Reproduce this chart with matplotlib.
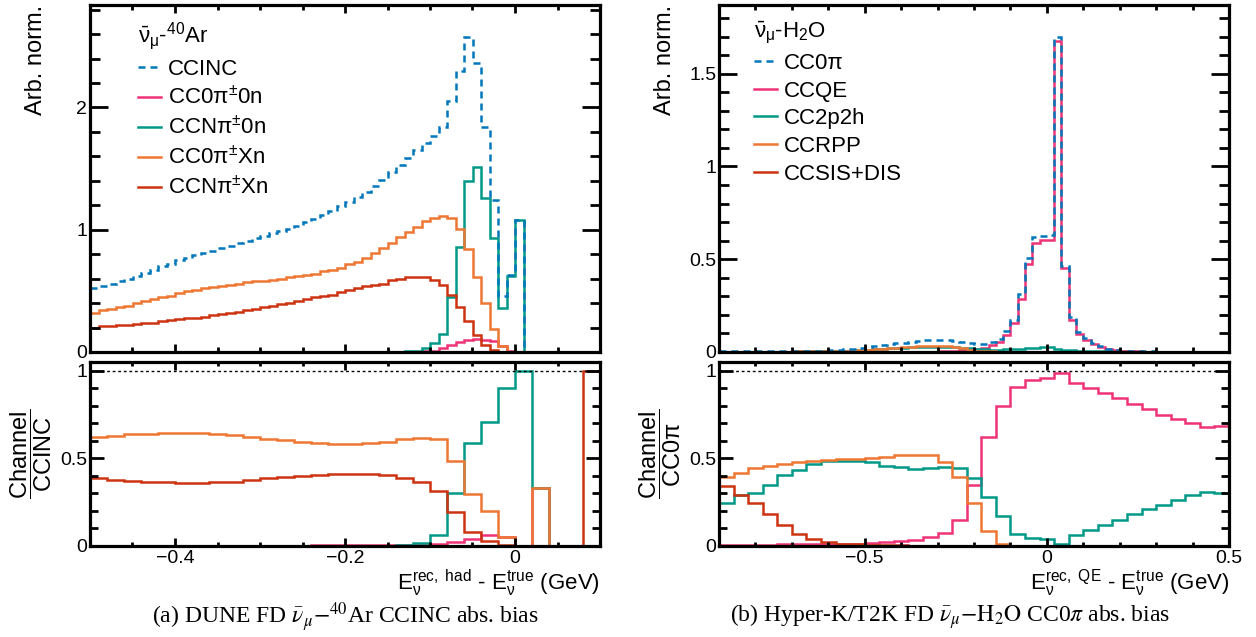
import numpy as np
import matplotlib
matplotlib.use("Agg")
from matplotlib import pyplot as plt
from matplotlib.lines import Line2D
import matplotlib.ticker as mtick

plt.rcParams['font.family'] = ['Liberation Sans', 'DejaVu Sans']
plt.rcParams['mathtext.fontset'] = 'custom'
plt.rcParams['mathtext.rm'] = 'Liberation Sans'
plt.rcParams['mathtext.it'] = 'Liberation Sans:italic'
plt.rcParams['mathtext.bf'] = 'Liberation Sans:bold'
plt.rcParams['mathtext.sf'] = 'Liberation Sans'

# ---- DUNE FD, anti-numu on Ar40: spectrum in 0.01 GeV bins, ratio in 0.02 GeV bins
dune_range = (-0.5, 0.1)
dune_ccinc = [0.52, 0.54, 0.56, 0.58, 0.60, 0.62, 0.65, 0.67, 0.70, 0.72,
              0.75, 0.77, 0.79, 0.81, 0.83, 0.85, 0.87, 0.89, 0.91, 0.93,
              0.95, 0.97, 0.99, 1.01, 1.03, 1.06, 1.09, 1.12, 1.15, 1.19,
              1.23, 1.27, 1.31, 1.36, 1.41, 1.47, 1.53, 1.59, 1.65, 1.71,
              1.77, 1.84, 2.05, 2.30, 2.58, 2.36, 1.84, 1.24, 0.46, 0.63,
              1.08, 0.0, 0.0, 0.0, 0.0, 0.0, 0.0, 0.0, 0.0, 0.0]
dune_cc0pi0n = [0.0, 0.0, 0.0, 0.0, 0.0, 0.0, 0.0, 0.0, 0.0, 0.0,
                0.0, 0.0, 0.001, 0.002, 0.002, 0.002, 0.001, 0.0, 0.0, 0.0,
                0.0, 0.0, 0.0, 0.0, 0.001, 0.002, 0.002, 0.002, 0.002, 0.002,
                0.002, 0.002, 0.003, 0.003, 0.003, 0.003, 0.003, 0.004, 0.004, 0.005,
                0.01, 0.03, 0.06, 0.08, 0.10, 0.11, 0.10, 0.09, 0.05, 0.01,
                0.0, 0.0, 0.0, 0.0, 0.0, 0.0, 0.0, 0.0, 0.0, 0.0]
dune_ccnpi0n = [0.0, 0.0, 0.0, 0.0, 0.0, 0.0, 0.0, 0.0, 0.0, 0.0,
                0.0, 0.0, 0.0, 0.0, 0.0, 0.0, 0.0, 0.0, 0.0, 0.0,
                0.0, 0.0, 0.0, 0.0, 0.0, 0.0, 0.0, 0.0, 0.0, 0.0,
                0.0, 0.0, 0.0, 0.001, 0.001, 0.002, 0.004, 0.006, 0.01, 0.03,
                0.07, 0.15, 0.45, 0.86, 1.40, 1.51, 1.26, 0.93, 0.36, 0.62,
                1.08, 0.0, 0.0, 0.0, 0.0, 0.0, 0.0, 0.0, 0.0, 0.0]
dune_cc0pixn = [0.32, 0.34, 0.35, 0.37, 0.38, 0.40, 0.42, 0.43, 0.45, 0.46,
                0.48, 0.50, 0.51, 0.52, 0.53, 0.54, 0.55, 0.56, 0.57, 0.58,
                0.58, 0.59, 0.60, 0.61, 0.62, 0.63, 0.64, 0.66, 0.67, 0.69,
                0.72, 0.74, 0.77, 0.81, 0.85, 0.89, 0.94, 0.98, 1.02, 1.07,
                1.10, 1.11, 1.10, 1.01, 0.84, 0.61, 0.40, 0.19, 0.05, 0.0,
                0.0, 0.0, 0.0, 0.0, 0.0, 0.0, 0.0, 0.0, 0.0, 0.0]
dune_ccnpixn = [0.20, 0.21, 0.21, 0.22, 0.22, 0.23, 0.24, 0.24, 0.25, 0.26,
                0.27, 0.28, 0.28, 0.29, 0.30, 0.31, 0.32, 0.33, 0.34, 0.35,
                0.37, 0.38, 0.39, 0.40, 0.42, 0.43, 0.45, 0.46, 0.47, 0.49,
                0.51, 0.52, 0.54, 0.55, 0.56, 0.59, 0.60, 0.61, 0.61, 0.61,
                0.59, 0.55, 0.47, 0.37, 0.25, 0.14, 0.06, 0.02, 0.0, 0.0,
                0.0, 0.0, 0.0, 0.0, 0.0, 0.0, 0.0, 0.0, 0.0, 0.0]

dune_r_cc0pi0n = [0.0, 0.0, 0.0, 0.0, 0.0, 0.002, 0.002, 0.002, 0.002, 0.002,
                  0.0, 0.0, 0.0, 0.003, 0.003, 0.003, 0.003, 0.003, 0.003, 0.004,
                  0.010, 0.020, 0.040, 0.063, 0.050, 0.0, 0.333, 0.0, 0.0, 0.0]
dune_r_ccnpi0n = [0.0, 0.0, 0.0, 0.0, 0.0, 0.0, 0.0, 0.0, 0.0, 0.0,
                  0.0, 0.0, 0.0, 0.0, 0.0, 0.0, 0.0, 0.002, 0.005, 0.015,
                  0.060, 0.300, 0.585, 0.710, 0.900, 1.0, 0.333, 0.0, 0.0, 0.0]
dune_r_cc0pixn = [0.620, 0.630, 0.637, 0.641, 0.644, 0.645, 0.643, 0.640, 0.634, 0.624,
                  0.612, 0.604, 0.596, 0.589, 0.584, 0.583, 0.588, 0.596, 0.608, 0.618,
                  0.612, 0.484, 0.295, 0.200, 0.050, 0.0, 0.333, 0.0, 0.0, 0.0]
dune_r_ccnpixn = [0.386, 0.378, 0.372, 0.367, 0.363, 0.361, 0.361, 0.363, 0.368, 0.376,
                  0.386, 0.395, 0.402, 0.408, 0.412, 0.413, 0.410, 0.405, 0.386, 0.367,
                  0.316, 0.196, 0.080, 0.029, 0.005, 0.0, 0.0, 0.0, 0.0, 1.0]

# ---- Hyper-K/T2K FD, anti-numu on water: spectrum in 0.02 GeV bins, ratio in 0.04 GeV bins
hk_range = (-0.9, 0.5)
hk_cc0pi = [0.003, 0.003, 0.003, 0.003, 0.004, 0.004, 0.004, 0.004, 0.005, 0.005,
            0.005, 0.006, 0.006, 0.007, 0.008, 0.010, 0.012, 0.015, 0.018, 0.022,
            0.026, 0.031, 0.036, 0.041, 0.046, 0.051, 0.055, 0.059, 0.062, 0.065,
            0.065, 0.063, 0.059, 0.054, 0.048, 0.043, 0.041, 0.054, 0.071, 0.112,
            0.170, 0.310, 0.505, 0.620, 0.625, 0.630, 1.700, 0.464, 0.190, 0.110,
            0.075, 0.048, 0.030, 0.018, 0.012, 0.008, 0.006, 0.004, 0.003, 0.003,
            0.002, 0.002, 0.002, 0.002, 0.001, 0.001, 0.001, 0.001, 0.001, 0.001]
hk_ccqe = [0.0, 0.0, 0.0, 0.0, 0.0, 0.0, 0.0, 0.0, 0.0, 0.0,
           0.0, 0.0, 0.0, 0.0, 0.0, 0.0, 0.0, 0.0, 0.0, 0.0,
           0.0, 0.0, 0.001, 0.001, 0.001, 0.001, 0.001, 0.002, 0.002, 0.002,
           0.003, 0.004, 0.006, 0.010, 0.013, 0.018, 0.022, 0.036, 0.054, 0.089,
           0.155, 0.286, 0.473, 0.590, 0.605, 0.605, 1.675, 0.450, 0.175, 0.098,
           0.066, 0.041, 0.025, 0.015, 0.010, 0.007, 0.005, 0.003, 0.002, 0.002,
           0.002, 0.001, 0.001, 0.001, 0.001, 0.001, 0.001, 0.001, 0.001, 0.001]
hk_cc2p2h = [0.001, 0.001, 0.001, 0.001, 0.001, 0.001, 0.002, 0.002, 0.002, 0.002,
             0.002, 0.003, 0.003, 0.003, 0.004, 0.005, 0.006, 0.007, 0.009, 0.011,
             0.013, 0.015, 0.017, 0.019, 0.021, 0.023, 0.025, 0.027, 0.028, 0.029,
             0.029, 0.028, 0.026, 0.023, 0.020, 0.017, 0.014, 0.013, 0.013, 0.014,
             0.016, 0.018, 0.021, 0.024, 0.026, 0.027, 0.014, 0.009, 0.011, 0.008,
             0.006, 0.005, 0.004, 0.003, 0.002, 0.002, 0.002, 0.001, 0.001, 0.001,
             0.001, 0.001, 0.001, 0.001, 0.0, 0.0, 0.0, 0.0, 0.0, 0.0]
hk_ccrpp = [0.001, 0.001, 0.001, 0.002, 0.002, 0.002, 0.002, 0.002, 0.002, 0.002,
            0.003, 0.003, 0.003, 0.003, 0.004, 0.005, 0.006, 0.007, 0.009, 0.011,
            0.013, 0.015, 0.018, 0.021, 0.024, 0.027, 0.029, 0.031, 0.033, 0.034,
            0.033, 0.030, 0.025, 0.020, 0.013, 0.008, 0.005, 0.003, 0.001, 0.001,
            0.0, 0.0, 0.0, 0.0, 0.0, 0.0, 0.0, 0.0, 0.0, 0.0,
            0.0, 0.0, 0.0, 0.0, 0.0, 0.0, 0.0, 0.0, 0.0, 0.0,
            0.0, 0.0, 0.0, 0.0, 0.0, 0.0, 0.0, 0.0, 0.0, 0.0]
hk_ccsisdis = [0.001, 0.001, 0.001, 0.001, 0.001, 0.001, 0.001, 0.001, 0.0, 0.0,
               0.0, 0.0, 0.0, 0.0, 0.0, 0.0, 0.0, 0.0, 0.0, 0.0,
               0.0, 0.0, 0.0, 0.0, 0.0, 0.0, 0.0, 0.0, 0.0, 0.0,
               0.0, 0.0, 0.0, 0.0, 0.0, 0.0, 0.0, 0.0, 0.0, 0.0,
               0.0, 0.0, 0.0, 0.0, 0.0, 0.0, 0.0, 0.0, 0.0, 0.0,
               0.0, 0.0, 0.0, 0.0, 0.0, 0.0, 0.0, 0.0, 0.0, 0.0,
               0.0, 0.0, 0.0, 0.0, 0.0, 0.0, 0.0, 0.0, 0.0, 0.0]

hk_r_ccqe = [0.008, 0.008, 0.008, 0.008, 0.009, 0.010, 0.012, 0.013, 0.013, 0.014,
             0.017, 0.021, 0.029, 0.036, 0.052, 0.075, 0.148, 0.350, 0.620, 0.800,
             0.910, 0.950, 0.960, 0.985, 0.930, 0.900, 0.875, 0.846, 0.810, 0.780,
             0.750, 0.725, 0.700, 0.680, 0.687]
hk_r_cc2p2h = [0.247, 0.290, 0.300, 0.350, 0.405, 0.435, 0.470, 0.483, 0.487, 0.483,
               0.477, 0.458, 0.448, 0.440, 0.444, 0.450, 0.444, 0.390, 0.280, 0.170,
               0.070, 0.048, 0.040, 0.010, 0.063, 0.090, 0.120, 0.148, 0.180, 0.210,
               0.236, 0.260, 0.290, 0.310, 0.300]
hk_r_ccrpp = [0.393, 0.416, 0.445, 0.455, 0.467, 0.477, 0.483, 0.490, 0.495, 0.497,
              0.500, 0.508, 0.517, 0.520, 0.517, 0.480, 0.393, 0.243, 0.087, 0.013,
              0.0, 0.0, 0.0, 0.0, 0.0, 0.0, 0.0, 0.0, 0.0, 0.0,
              0.0, 0.0, 0.0, 0.0, 0.0]
hk_r_ccsisdis = [0.343, 0.290, 0.243, 0.182, 0.119, 0.071, 0.042, 0.023, 0.013, 0.010,
                 0.005, 0.004, 0.003, 0.002, 0.001, 0.0, 0.0, 0.0, 0.0, 0.0,
                 0.0, 0.0, 0.0, 0.0, 0.0, 0.0, 0.0, 0.0, 0.0, 0.0,
                 0.0, 0.0, 0.0, 0.0, 0.0]

total_color = '#0077BB'
channel_colors = ['#EE3377', '#009988', '#EE7733', '#CC3311']

W, H = 1256, 637
LW = 1.8
FS_TICK = 14
FS_TITLE = 17
FS_LEG = 16


def edges_for(rng, values):
    return np.linspace(rng[0], rng[1], len(values) + 1)


def fmt_tick(v, pos):
    return ('%g' % v).replace('-', '\u2212')


def style_axes(ax, xmaj, xmin, ymaj, ymin, ylen, xlen, show_x):
    for s in ax.spines.values():
        s.set_linewidth(2.3)
    ax.xaxis.set_major_locator(mtick.MultipleLocator(xmaj))
    ax.xaxis.set_minor_locator(mtick.MultipleLocator(xmin))
    ax.yaxis.set_major_locator(mtick.MultipleLocator(ymaj))
    ax.yaxis.set_minor_locator(mtick.MultipleLocator(ymin))
    ax.xaxis.set_major_formatter(mtick.FuncFormatter(fmt_tick))
    ax.yaxis.set_major_formatter(mtick.FuncFormatter(fmt_tick))
    ax.tick_params(which='both', direction='in', top=True, right=True,
                   width=2.0, labelsize=FS_TICK)
    ax.tick_params(axis='y', which='major', length=ylen, pad=2)
    ax.tick_params(axis='y', which='minor', length=ylen * 0.55)
    ax.tick_params(axis='x', which='major', length=xlen, pad=3)
    ax.tick_params(axis='x', which='minor', length=xlen * 0.55)
    ax.tick_params(axis='x', labelbottom=show_x)


def draw_panel(left_px, rng, total, channels, ratios, header, labels,
               xmaj, xmin, ymaj, ymin, ratio_name, xlabel, caption, cap_x, leg_x):
    ax = fig.add_axes([left_px / W, 1 - 352 / H, 510 / W, 347 / H])
    ax_r = fig.add_axes([left_px / W, 1 - 546 / H, 510 / W, 184 / H])

    # spectra: channels first, inclusive dashed on top
    e = edges_for(rng, total)
    for vals, c in zip(channels, channel_colors):
        ax.stairs(vals, e, color=c, lw=LW, baseline=None)
    ax.stairs(total, e, color=total_color, lw=LW, ls=(0, (2.8, 2.0)), baseline=None)
    ax.set_xlim(*rng)
    ax.set_ylim(0, 1.1 * max(total))
    style_axes(ax, xmaj, xmin, ymaj, ymin, 13, 6, False)
    ax.set_ylabel('Arb. norm.', fontsize=FS_TITLE, loc='top')
    ax.yaxis.set_label_coords(-0.084, 1.0)

    handles = [Line2D([], [], color=total_color, lw=LW, ls=(0, (2.8, 2.0)))]
    handles += [Line2D([], [], color=c, lw=LW) for c in channel_colors]
    ax.legend(handles, labels, title=header, loc='upper left',
              bbox_to_anchor=(leg_x, 0.957), frameon=False, fontsize=FS_LEG,
              title_fontsize=FS_LEG, handlelength=1.05, handletextpad=0.3,
              labelspacing=0.3, borderpad=0, borderaxespad=0, alignment='left')

    # channel / total ratios
    er = edges_for(rng, ratios[0])
    for vals, c in zip(ratios, channel_colors):
        ax_r.stairs(vals, er, color=c, lw=LW, baseline=None)
    ax_r.axhline(1.0, color='black', lw=1.0, ls=(0, (2, 2)))
    ax_r.set_xlim(*rng)
    ax_r.set_ylim(0, 1.05)
    style_axes(ax_r, xmaj, xmin, 0.5, 0.1, 10, 5.5, True)
    ax_r.set_ylabel(r'$\dfrac{\mathrm{Channel}}{\mathrm{%s}}$' % ratio_name,
                    fontsize=FS_TITLE)
    ax_r.yaxis.set_label_coords(-0.07, 0.5)
    ax_r.set_xlabel(xlabel, fontsize=16, loc='right')
    ax_r.xaxis.set_label_coords(1.0, -0.118)

    fig.text(cap_x / W, 1 - 617 / H, caption, ha='center', va='center',
             fontsize=17, family='Liberation Serif', math_fontfamily='stix')


fig = plt.figure(figsize=(W / 100, H / 100), dpi=100)

draw_panel(90, dune_range, dune_ccinc,
           [dune_cc0pi0n, dune_ccnpi0n, dune_cc0pixn, dune_ccnpixn],
           [dune_r_cc0pi0n, dune_r_ccnpi0n, dune_r_cc0pixn, dune_r_ccnpixn],
           r'$\bar{\mathrm{\nu}}_{\mathrm{\mu}}$-$^{\mathrm{40}}$Ar',
           ['CCINC', r'CC0π$^{\pm}$0n', r'CCNπ$^{\pm}$0n',
            r'CC0π$^{\pm}$Xn', r'CCNπ$^{\pm}$Xn'],
           0.2, 0.05, 1, 0.2, 'CCINC',
           r'$\mathrm{E_{\nu}^{rec,\ had}}$ - $\mathrm{E_{\nu}^{true}}$ (GeV)',
           r'(a) DUNE FD $\bar{\nu}_{\mu}{-}^{40}$Ar CCINC abs. bias', 345, 0.094)

draw_panel(719, hk_range, hk_cc0pi,
           [hk_ccqe, hk_cc2p2h, hk_ccrpp, hk_ccsisdis],
           [hk_r_ccqe, hk_r_cc2p2h, hk_r_ccrpp, hk_r_ccsisdis],
           r'$\bar{\mathrm{\nu}}_{\mathrm{\mu}}$-H$_{\mathrm{2}}$O',
           ['CC0π', 'CCQE', 'CC2p2h', 'CCRPP', 'CCSIS+DIS'],
           0.5, 0.1, 0.5, 0.1, 'CC0π',
           r'$\mathrm{E_{\nu}^{rec,\ QE}}$ - $\mathrm{E_{\nu}^{true}}$ (GeV)',
           r'(b) Hyper-K/T2K FD $\bar{\nu}_{\mu}{-}\mathrm{H_2O}$ CC0$\pi$ abs. bias',
           950, 0.068)

fig.savefig('out.png', dpi=100)
